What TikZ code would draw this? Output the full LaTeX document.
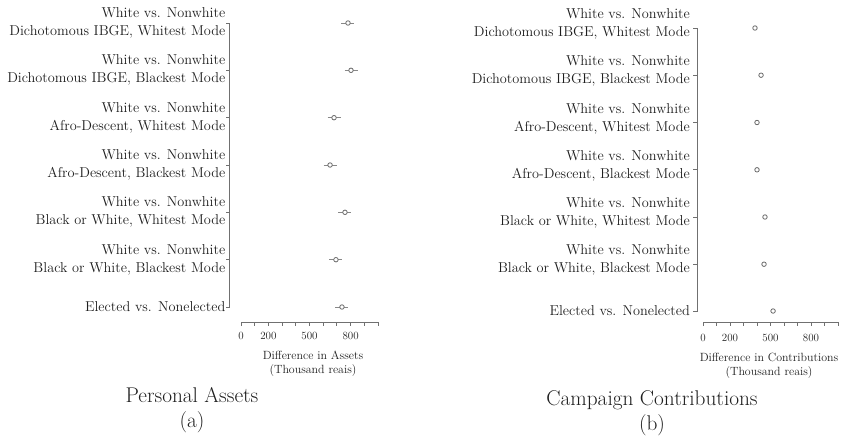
\documentclass[tikz,border=0pt]{standalone}
\usepackage{fontspec}
\definecolor{txt}{HTML}{1E1E1E}
\definecolor{ln}{HTML}{707070}
\definecolor{pt}{HTML}{6A6A6A}
\tikzset{
  lbl/.style={anchor=east, align=right, font=\fontsize{14.3}{18}\selectfont, inner sep=0pt, text=txt},
  ticklbl/.style={anchor=center, font=\fontsize{11}{12}\selectfont, inner sep=0pt, text=txt},
  axtitle/.style={anchor=center, align=center, font=\fontsize{11.9}{14}\selectfont, inner sep=0pt, text=txt},
  paneltitle/.style={anchor=center, align=center, font=\fontsize{21.3}{25}\selectfont, inner sep=0pt, text=txt},
  axisline/.style={draw=ln, line width=0.9pt},
  estpt/.style={circle, draw=pt, fill=white, line width=0.8pt, minimum size=4.5pt, inner sep=0pt},
  whisker/.style={draw=pt!80, line width=1pt}
}
\begin{document}
\begin{tikzpicture}[x=1pt,y=-1pt]
\useasboundingbox (0,0) rectangle (848,437);

% ---------- Left panel ----------
\draw[axisline] (226,23) -- (229,23) -- (229,307) -- (226,307);
\foreach \y in {70.3,117.7,165,212.3,259.7}{\draw[axisline] (226,\y) -- (229,\y);}
\foreach \i/\y/\t in {1/23/{White vs. Nonwhite\\Dichotomous IBGE, Whitest Mode},
                      2/70.3/{White vs. Nonwhite\\Dichotomous IBGE, Blackest Mode},
                      3/117.7/{White vs. Nonwhite\\Afro-Descent, Whitest Mode},
                      4/165/{White vs. Nonwhite\\Afro-Descent, Blackest Mode},
                      5/212.3/{White vs. Nonwhite\\Black or White, Whitest Mode},
                      6/259.7/{White vs. Nonwhite\\Black or White, Blackest Mode}}{
  \node[lbl] (la\i) at (225.5,\y) {\t};
}
\node[lbl] (la7) at (225.5,307) {Elected vs. Nonelected};

\foreach \i/\y/\v in {1/23/781,2/70.3/803,3/117.7/679,4/165/650,5/212.3/759,6/259.7/693,7/307/737}{
  \draw[whisker] ({241+0.137*\v-6.5},\y) -- ({241+0.137*\v+6.5},\y);
  \node[estpt] (pa\i) at ({241+0.137*\v},\y) {};
}

% axis
\draw[axisline] (241,326) -- (241,322) -- (378,322) -- (378,326);
\foreach \k in {1,...,9}{\draw[axisline] ({241+13.7*\k},322) -- ({241+13.7*\k},326);}
\foreach \v in {0,200,500,800}{\node[ticklbl] at ({241+0.137*\v},336) {\v};}
\node[axtitle] (axa) at (313,364) {Difference in Assets\\(Thousand reais)};
\node[paneltitle] (ta) at (192,410) {Personal Assets\\(a)};

% ---------- Right panel ----------
\draw[axisline] (693,28) -- (697,28) -- (697,311) -- (693,311);
\foreach \y in {75.2,122.5,169.8,217,264.2}{\draw[axisline] (693,\y) -- (697,\y);}
\foreach \i/\y/\t in {1/24/{White vs. Nonwhite\\Dichotomous IBGE, Whitest Mode},
                      2/71.2/{White vs. Nonwhite\\Dichotomous IBGE, Blackest Mode},
                      3/118.5/{White vs. Nonwhite\\Afro-Descent, Whitest Mode},
                      4/165.8/{White vs. Nonwhite\\Afro-Descent, Blackest Mode},
                      5/213/{White vs. Nonwhite\\Black or White, Whitest Mode},
                      6/260.2/{White vs. Nonwhite\\Black or White, Blackest Mode}}{
  \node[lbl] (lb\i) at (690,\y) {\t};
}
\node[lbl] (lb7) at (690,311) {Elected vs. Nonelected};

\foreach \i/\y/\v in {1/28/385,2/75.2/430,3/122.5/400,4/169.8/400,5/217/459,6/264.2/452,7/311/519}{
  \node[estpt] (pb\i) at ({703+0.135*\v},\y) {};
}

\draw[axisline] (703,326) -- (703,322) -- (838,322) -- (838,326);
\foreach \k in {1,...,9}{\draw[axisline] ({703+13.5*\k},322) -- ({703+13.5*\k},326);}
\foreach \v in {0,200,500,800}{\node[ticklbl] at ({703+0.135*\v},338) {\v};}
\node[axtitle] (axb) at (769,366) {Difference in Contributions\\(Thousand reais)};
\node[paneltitle] (tb) at (652,413) {Campaign Contributions\\(b)};
\end{tikzpicture}
\end{document}
